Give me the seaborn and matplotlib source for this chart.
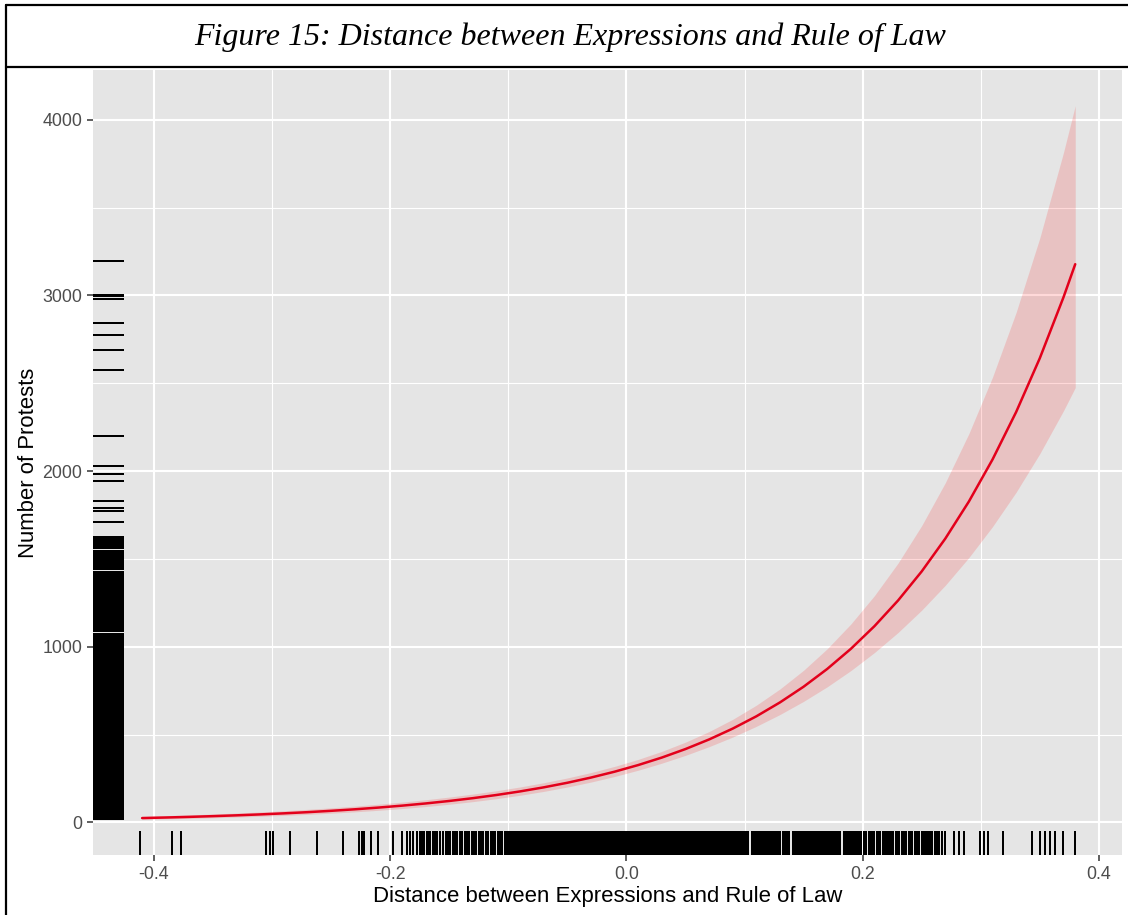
import numpy as np
import matplotlib
matplotlib.use("Agg")
import matplotlib.pyplot as plt
from matplotlib.lines import Line2D
from matplotlib.ticker import FixedLocator
import seaborn as sns

# ---- fitted curve with 95% confidence band ----
grid_x = [-0.41, -0.39, -0.37, -0.35, -0.33, -0.31, -0.29, -0.27, -0.25, -0.23,
          -0.21, -0.19, -0.17, -0.15, -0.13, -0.11, -0.09, -0.07, -0.05, -0.03,
          -0.01, 0.01, 0.03, 0.05, 0.07, 0.09, 0.11, 0.13, 0.15, 0.17,
          0.19, 0.21, 0.23, 0.25, 0.27, 0.29, 0.31, 0.33, 0.35, 0.37, 0.38]
fit_y = [24.7, 27.9, 31.5, 35.7, 40.3, 45.6, 51.6, 58.3, 66.0, 74.6,
         84.4, 95.4, 107.9, 122.0, 138.0, 156.1, 176.5, 199.6, 225.7, 255.3,
         288.7, 326.5, 369.2, 417.6, 472.2, 534.0, 603.9, 683.0, 772.4, 873.5,
         987.8, 1117.1, 1263.3, 1428.6, 1615.6, 1827.1, 2066.2, 2336.6, 2642.4, 2988.3, 3177.6]
ci_lower = [17.6, 20.2, 23.1, 26.5, 30.4, 34.8, 39.9, 45.7, 52.4, 60.0,
            68.8, 78.7, 90.2, 103.2, 118.1, 135.1, 154.4, 176.4, 201.3, 229.5,
            261.4, 297.1, 337.1, 381.6, 431.1, 485.9, 546.7, 614.1, 688.9, 771.8,
            864.1, 966.8, 1081.0, 1208.1, 1349.8, 1507.9, 1683.9, 1880.0, 2098.8, 2342.6, 2474.8]
ci_upper = [34.6, 38.6, 42.9, 48.0, 53.5, 59.7, 66.7, 74.4, 83.1, 92.7,
            103.6, 115.6, 129.1, 144.3, 161.3, 180.4, 201.8, 225.9, 253.1, 283.9,
            318.9, 358.8, 404.4, 456.9, 517.2, 586.8, 667.1, 759.6, 866.0, 988.5,
            1129.3, 1290.8, 1476.3, 1689.3, 1933.7, 2213.9, 2535.2, 2904.2, 3326.8, 3811.9, 4080.0]

# ---- observed distances (in thousandths) for the bottom rug ----
rug_x_milli = [
    -412, -385, -377, -305, -302, -299, -285, -262, -240, -226, -224, -222, -216, -210,
    -198, -190, -186, -183, -181,
    -177, -175, -173, -171, -169, -167, -166, -164, -162, -160, -158,
    -155, -153, -152, -150, -149, -147, -145,
    -143, -141, -139, -137, -135, -133, -131, -129, -127, -125, -123, -121, -119, -117,
    -115, -113, -111, -109, -107, -105, -103, -101,
    -99, -98, -97, -96, -95, -94, -93, -92, -91, -90, -89, -88, -87, -86, -85, -84,
    -83, -82, -81, -80, -79, -78, -77, -76, -75, -74, -73, -72, -71, -70, -69, -68,
    -67, -66, -65, -64, -63, -62, -61, -60, -59, -58, -57, -56, -55, -54, -53, -52,
    -51, -50, -49, -48, -47, -46, -45, -44, -43, -42, -41, -40, -39, -38, -37, -36,
    -35, -34, -33, -32, -31, -30, -29, -28, -27, -26, -25, -24, -23, -22, -21, -20,
    -19, -18, -17, -16, -15, -14, -13, -12, -11, -10, -9, -8, -7, -6, -5, -4, -3, -2, -1,
    0, 1, 2, 3, 4, 5, 6, 7, 8, 9, 10, 11, 12, 13, 14, 15, 16, 17, 18, 19, 20, 21, 22,
    23, 24, 25, 26, 27, 28, 29, 30, 31, 32, 33, 34, 35, 36, 37, 38, 39, 40, 41, 42, 43,
    44, 45, 46, 47, 48, 49, 50, 51, 52, 53, 54, 55, 56, 57, 58, 59, 60, 61, 62, 63, 64,
    65, 66, 67, 68, 69, 70, 71, 72, 73, 74, 75, 76, 77, 78, 79, 80, 81, 82, 83, 84, 85,
    86, 87, 88, 89, 90, 91, 92, 93, 94, 95, 96, 97, 98, 99, 100, 101, 102, 103,
    106, 107, 108, 109, 110, 111, 112, 113, 114, 115, 116, 117, 118, 119, 120, 121,
    122, 123, 124, 125, 126, 127, 128, 129, 130, 133, 134, 135, 136, 137, 138,
    141, 142, 143, 144, 145, 146, 147, 148, 149, 150, 151, 152, 153, 154, 155, 156,
    157, 158, 159, 160, 161, 162, 163, 164, 165, 166, 167, 168, 169, 170, 171, 172,
    173, 174, 175, 176, 177, 178, 179, 180, 181, 184, 185, 186, 187, 188, 189, 190,
    191, 192, 193, 194, 195, 196, 197, 198, 199,
    201, 203, 205, 206, 208, 210, 212, 213, 215, 217, 219, 221, 222, 224, 226, 228,
    230, 231, 233, 235, 237, 239, 241, 242, 244, 246, 248, 250, 252, 254, 255, 257,
    259, 261, 263, 265, 267, 270,
    277.5, 281.5, 285.5, 299.5, 302.5, 306.5, 318.5, 343.5, 350.5, 354.5, 358.5,
    362.5, 369.5, 379.5]

# ---- observed protest counts for the left rug ----
rug_y = [
    20, 27, 35, 43, 53, 61, 69, 78, 87, 95, 104, 113, 121, 130, 139, 147, 156, 165,
    173, 182, 191, 199, 208, 217, 225, 234, 243, 251, 260, 269, 277, 286, 295, 303,
    312, 321, 329, 338, 347, 355, 364, 373, 381, 390, 399, 407, 416, 425, 433, 442,
    451, 459, 468, 477, 485, 494, 503, 511, 520, 529, 537, 546, 555, 563, 572, 581,
    589, 596, 606, 614, 623, 632, 640, 649, 658, 666, 675, 684, 692, 701, 712, 720,
    729, 741, 749, 758, 767, 775, 784, 793, 801, 810, 819, 827, 836, 845, 853, 862,
    871, 879, 888, 897, 905, 914, 923, 931, 940, 949, 957, 963, 970, 978, 987, 995,
    1004, 1013, 1021, 1030, 1039, 1047, 1056, 1065, 1073,
    1088, 1094, 1105, 1113, 1119, 1130, 1138, 1146, 1158, 1166, 1174, 1180, 1191,
    1199, 1207, 1221, 1229, 1237, 1245, 1253, 1261, 1269, 1277, 1285, 1293, 1301,
    1309, 1317, 1325, 1333, 1341, 1349, 1357, 1365, 1372, 1378, 1392, 1400, 1408,
    1416, 1422, 1428, 1441, 1449, 1457, 1464, 1478, 1486, 1494, 1502, 1510, 1518,
    1526, 1534, 1542, 1547, 1560, 1568, 1576, 1584, 1592, 1600, 1608, 1616, 1622,
    1711, 1770, 1789, 1831, 1941, 1981, 2029, 2198, 2577, 2691, 2774, 2842, 2981,
    2994, 3004, 3194]

x_major = [-0.4, -0.2, 0.0, 0.2, 0.4]
x_major_labels = ["-0.4", "-0.2", "0.0", "0.2", "0.4"]
x_minor = [-0.3, -0.1, 0.1, 0.3]
y_major = [0, 1000, 2000, 3000, 4000]
y_major_labels = ["0", "1000", "2000", "3000", "4000"]
y_minor = [500, 1500, 2500, 3500]

title_text = "Figure 15: Distance between Expressions and Rule of Law"
x_title = "Distance between Expressions and Rule of Law"
y_title = "Number of Protests"

# ---- styling ----
sns.set_theme(style="darkgrid", rc={
    "axes.facecolor": "#E5E5E5",
    "grid.color": "white",
    "axes.edgecolor": "#E5E5E5",
})
plt.rcParams["font.family"] = ["Liberation Sans", "DejaVu Sans"]

W, H = 1128, 915
fig = plt.figure(figsize=(W / 100, H / 100), dpi=100)
fig.patch.set_facecolor("white")
ax = fig.add_axes([93 / W, 1 - 855 / H, (1122 - 93) / W, (855 - 70) / H])

# confidence band and fitted curve
ax.fill_between(grid_x, ci_lower, ci_upper, color="#FF0000", alpha=0.15,
                linewidth=0, zorder=2)
sns.lineplot(x=grid_x, y=fit_y, ax=ax, color="#E3001B", linewidth=1.8, zorder=3)

# rugs (hard-edged so that dense stretches render as solid black)
rug_x = np.array(rug_x_milli) / 1000.0
sns.rugplot(x=rug_x, ax=ax, height=0.03, color="black", linewidth=1.4,
            expand_margins=False, zorder=4, antialiased=False)
sns.rugplot(y=rug_y, ax=ax, height=0.03, color="black", linewidth=1.4,
            expand_margins=False, zorder=4, antialiased=False)

# ggplot-like expanded limits
all_x = np.concatenate([rug_x, grid_x])
all_y = np.concatenate([rug_y, ci_lower, ci_upper])
xpad = 0.05 * (all_x.max() - all_x.min())
ypad = 0.05 * (all_y.max() - all_y.min())
ax.set_xlim(all_x.min() - xpad, all_x.max() + xpad)
ax.set_ylim(all_y.min() - ypad, all_y.max() + ypad)

ax.xaxis.set_major_locator(FixedLocator(x_major))
ax.set_xticklabels(x_major_labels)
ax.xaxis.set_minor_locator(FixedLocator(x_minor))
ax.yaxis.set_major_locator(FixedLocator(y_major))
ax.set_yticklabels(y_major_labels)
ax.yaxis.set_minor_locator(FixedLocator(y_minor))

ax.grid(which="major", color="white", linewidth=1.5)
ax.grid(which="minor", color="white", linewidth=0.8)
ax.set_axisbelow(True)
for s in ax.spines.values():
    s.set_visible(False)

ax.tick_params(which="major", bottom=True, left=True, length=4.3, width=1.1,
               color="#333333", labelcolor="#4D4D4D", labelsize=12.8, pad=3.5)
ax.tick_params(which="minor", bottom=False, left=False, length=0)

ax.set_xlabel(x_title, fontsize=15.9, color="black", labelpad=2)
ax.set_ylabel(y_title, fontsize=15.9, color="black", labelpad=2.7)

# caption box above the panel
lw = 1.6
fig.add_artist(Line2D([5.5 / W, 1.0], [1 - 5 / H, 1 - 5 / H], color="black", lw=lw))
fig.add_artist(Line2D([5.5 / W, 1.0], [1 - 67 / H, 1 - 67 / H], color="black", lw=lw))
fig.add_artist(Line2D([5.5 / W, 5.5 / W], [0, 1 - 5 / H], color="black", lw=lw))
fig.text(570 / W, 1 - 37 / H, title_text, ha="center", va="center",
         family=["Liberation Serif", "DejaVu Serif"], style="italic",
         fontsize=23, color="black")

fig.savefig("out.png", dpi=100, facecolor="white")
